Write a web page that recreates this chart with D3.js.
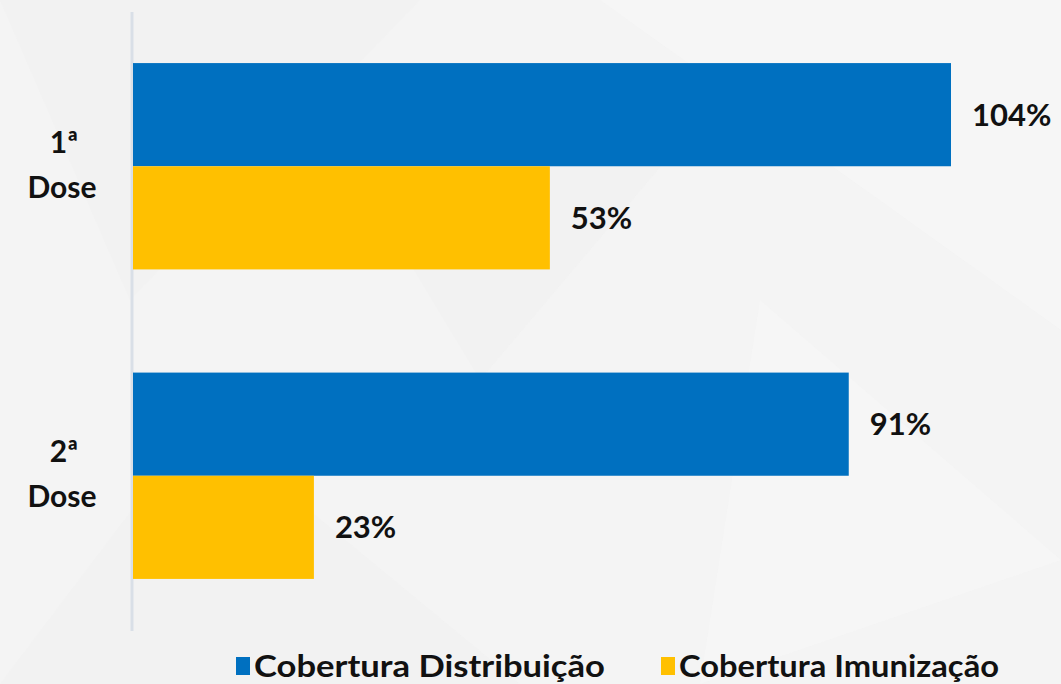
<!DOCTYPE html>
<html><head><meta charset="utf-8">
<script src="https://cdn.jsdelivr.net/npm/d3@7"></script>
<style>
html,body{margin:0;padding:0;background:#f4f4f4;}
svg{display:block;}
text{font-family:Lato,"Open Sans",sans-serif;font-weight:bold;fill:#111;}
</style></head>
<body><svg id="c" width="1061" height="684"></svg>
<script>
const categories = ["1ª Dose", "2ª Dose"];
const seriesNames = ["Cobertura Distribuição", "Cobertura Imunização"];
const distribuicao = [104, 91];
const imunizacao = [53, 23];
const colors = ["#0070c0", "#ffc000"];

const svg = d3.select("#c");
const W = 1061, H = 684;

// subtle background facets
const bg = svg.append("g");
bg.append("rect").attr("width", W).attr("height", H).attr("fill", "#f4f4f4");
const facets = [
  [[0,0],[420,0],[130,300]],
  [[600,0],[1061,0],[1061,330]],
  [[200,420],[520,684],[0,684]],
  [[760,300],[1061,560],[700,684]],
  [[300,80],[700,120],[480,380]]
];
bg.selectAll("path").data(facets).join("path")
  .attr("d", d => "M" + d.join("L") + "Z")
  .attr("fill", (d,i) => i % 2 ? "#f7f7f7" : "#f1f1f1")
  .attr("opacity", 0.7);

const x0 = 133;
const x = d3.scaleLinear().domain([0, 104]).range([x0, 951]);
const y = d3.scaleBand().domain(categories).range([11.5, 630.5]).paddingInner(1/3).paddingOuter(1/6);
const ySub = d3.scaleBand().domain([0, 1]).range([0, y.bandwidth()]);

const data = categories.map((c, i) => ({cat: c, vals: [distribuicao[i], imunizacao[i]]}));

// axis line
const yAxis = d3.axisLeft(y).tickSize(0).tickFormat("");
const ag = svg.append("g").attr("transform", `translate(${x0 - 1.5},0)`).call(yAxis);
ag.select(".domain").attr("stroke", "#d9dfe7").attr("stroke-width", 3);

const g = svg.append("g");
data.forEach(d => {
  d.vals.forEach((v, j) => {
    g.append("rect")
      .attr("x", x(0))
      .attr("y", y(d.cat) + ySub(j))
      .attr("width", x(v) - x(0))
      .attr("height", ySub.bandwidth())
      .attr("fill", colors[j]);
    g.append("text")
      .attr("x", x(v) + 21)
      .attr("y", y(d.cat) + ySub(j) + ySub.bandwidth() / 2 + 3)
      .attr("dominant-baseline", "middle")
      .attr("font-size", 31)
      .text(v + "%");
  });
  const parts = d.cat.split(" ");
  const cy = y(d.cat) + y.bandwidth() / 2;
  g.append("text")
    .attr("x", 64).attr("y", cy - 21)
    .attr("text-anchor", "middle").attr("dominant-baseline", "middle")
    .attr("font-size", 30).text(parts[0]);
  g.append("text")
    .attr("x", 62).attr("y", cy + 24)
    .attr("text-anchor", "middle").attr("dominant-baseline", "middle")
    .attr("font-size", 30).text(parts[1]);
});

// legend
const legendX = [236, 661];
const legendW = [351, 320];
const lg = svg.append("g");
seriesNames.forEach((n, i) => {
  lg.append("rect").attr("x", legendX[i]).attr("y", 657).attr("width", 14).attr("height", 18).attr("fill", colors[i]);
  lg.append("text").attr("x", legendX[i] + 18).attr("y", 677)
    .attr("font-size", 31)
    .attr("textLength", legendW[i]).attr("lengthAdjust", "spacingAndGlyphs")
    .text(n);
});
</script></body></html>
